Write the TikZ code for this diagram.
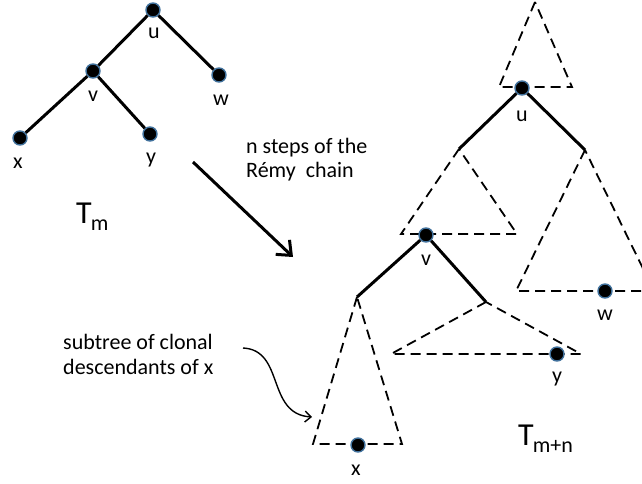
\documentclass[tikz,border=0pt]{standalone}
\usepackage{fontspec}
\setmainfont{Carlito}
\usetikzlibrary{arrows.meta}
\definecolor{nodeblue}{RGB}{65,113,156}
\tikzset{
  dot/.style={circle,fill=black,draw=nodeblue,line width=1.4pt,minimum size=14pt,inner sep=0pt},
  lab/.style={anchor=base,inner sep=0pt,font=\fontsize{22}{26}\selectfont},
  txt/.style={anchor=base west,inner sep=0pt,font=\fontsize{22}{26}\selectfont},
  edge/.style={line width=3pt},
  dline/.style={line width=1.8pt,dash pattern=on 10pt off 6pt},
  bigarrow/.style={line width=3pt,-{Straight Barb[length=12pt,width=20pt]}},
  smallarrow/.style={line width=1.4pt,-{Straight Barb[length=6pt,width=11pt]}},
}
\newcommand{\bigT}[1]{{\fontsize{32}{32}\selectfont T}\kern-1pt\raisebox{-7pt}{\fontsize{22}{22}\selectfont #1}}
\begin{document}
\begin{tikzpicture}[x=1pt,y=-1pt]
\clip (0,0) rectangle (642,483);
% ---------- left tree T_m ----------
\node[dot] (lu) at (153,10) {};
\node[dot] (lv) at (93,71) {};
\node[dot] (lw) at (219,75) {};
\node[dot] (lx) at (20,138) {};
\node[dot] (ly) at (150,134) {};
\draw[edge] (lu) -- (lv);
\draw[edge] (lu) -- (lw);
\draw[edge] (lv) -- (lx);
\draw[edge] (lv) -- (ly);
\node[lab] (lul) at (154,38) {u};
\node[lab] (lvl) at (93,101) {v};
\node[lab] (lwl) at (221,105) {w};
\node[lab] (lxl) at (18,168) {x};
\node[lab] (lyl) at (151,163) {y};
\node[anchor=base west,inner sep=0pt] (tm) at (76,223) {\bigT{m}};
% ---------- main arrow ----------
\coordinate (a0) at (193,162);
\coordinate (a1) at (293,257);
\draw[bigarrow] (a0) -- (a1);
\node[txt] (st1) at (246,153) {n steps of the};
\node[txt] (st2) at (246,177) {Rémy~ chain};
% ---------- right tree T_{m+n} ----------
% dashed subtrees
\coordinate (t0a) at (535,2);   \coordinate (t0l) at (499,87);  \coordinate (t0r) at (572,87);
\coordinate (t1a) at (459,149); \coordinate (t1l) at (401,234); \coordinate (t1r) at (517,234);
\coordinate (t2a) at (585,150); \coordinate (t2l) at (516,291); \coordinate (t2r) at (654,291);
\coordinate (t3a) at (357,297); \coordinate (t3l) at (313,444); \coordinate (t3r) at (402,444);
\coordinate (t4a) at (486,302); \coordinate (t4l) at (391,354); \coordinate (t4r) at (581,354);
\draw[dline] (t0a) -- (t0l) -- (t0r) -- cycle;
\draw[dline] (t1a) -- (t1l) -- (t1r) -- cycle;
\draw[dline] (t2a) -- (t2l) -- (t2r) -- cycle;
\draw[dline] (t3a) -- (t3l) -- (t3r) -- cycle;
\draw[dline] (t4a) -- (t4l) -- (t4r) -- cycle;
% nodes
\node[dot] (ru) at (522,88) {};
\node[dot] (rv) at (426,235) {};
\node[dot] (rw) at (605,291) {};
\node[dot] (rx) at (358,445) {};
\node[dot] (ry) at (557,354) {};
\draw[edge] (ru) -- (t1a);
\draw[edge] (ru) -- (t2a);
\draw[edge] (rv) -- (t3a);
\draw[edge] (rv) -- (t4a);
\node[lab] (rul) at (522,121) {u};
\node[lab] (rvl) at (426,265) {v};
\node[lab] (rwl) at (605,320) {w};
\node[lab] (rxl) at (356,475) {x};
\node[lab] (ryl) at (557,382) {y};
\node[anchor=base west,inner sep=0pt] (tmn) at (518,445) {\bigT{m+n}};
% ---------- annotation ----------
\node[txt] (sub1) at (63,349) {subtree of clonal};
\node[txt] (sub2) at (63,374) {descendants of x};
\coordinate (c0) at (243,348);
\coordinate (c1) at (312,417);
\draw[smallarrow] (c0) .. controls (285,350) and (266,414) .. (c1);
\end{tikzpicture}
\end{document}
